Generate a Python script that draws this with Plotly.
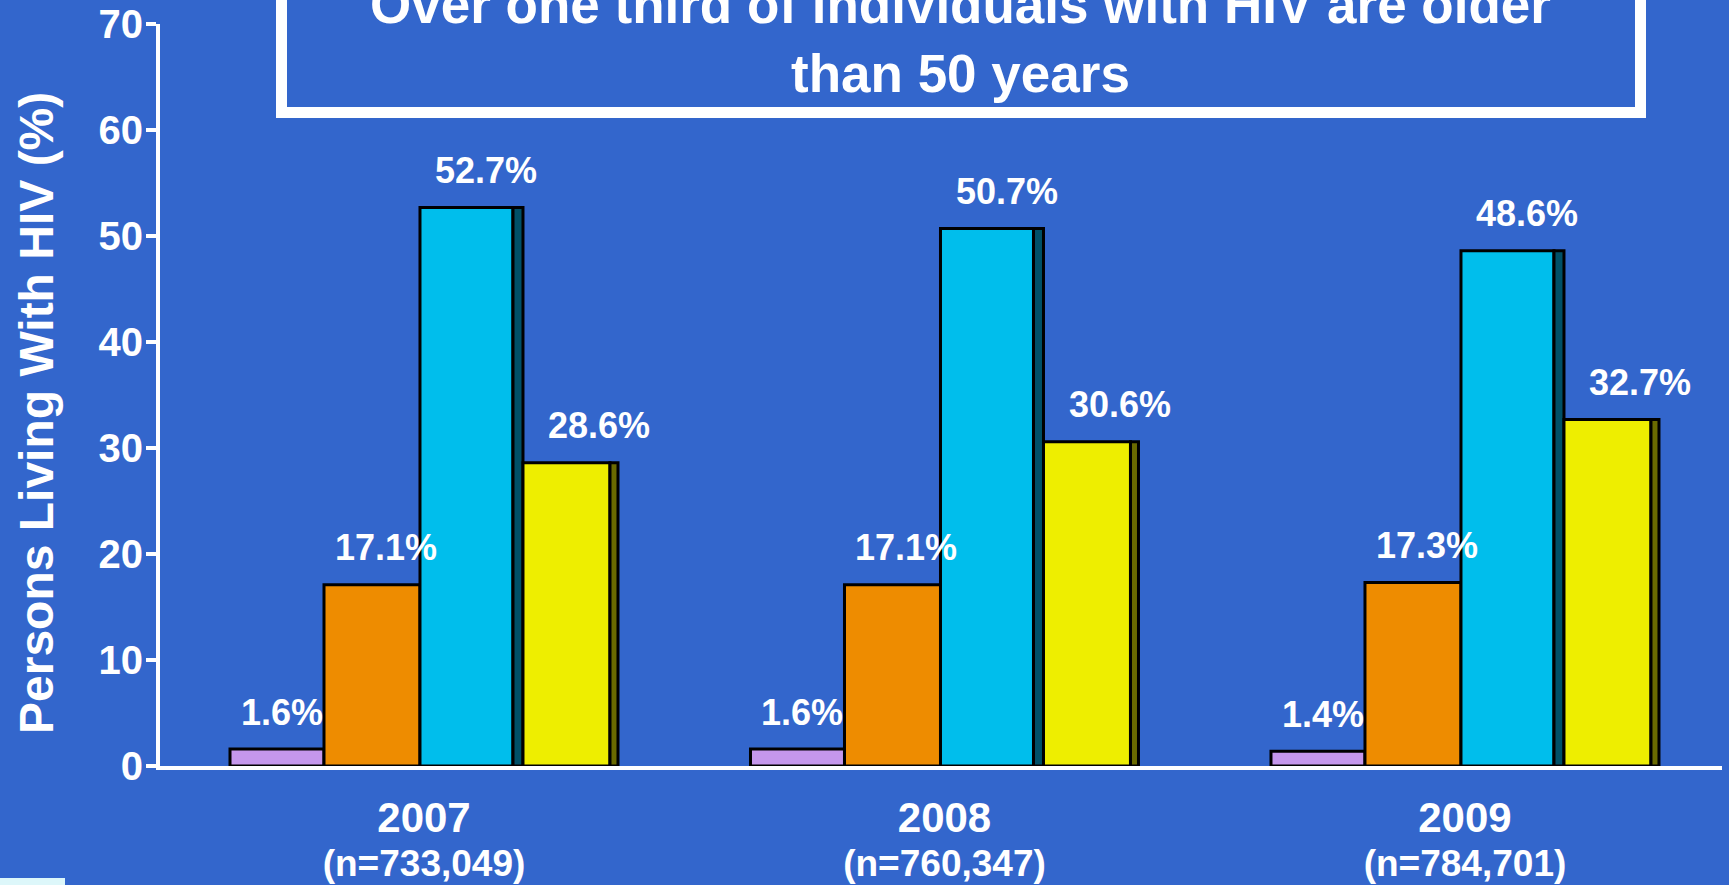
import plotly.graph_objects as go

# ---------------- data ----------------
years = ["2007", "2008", "2009"]
sample_sizes = ["733,049", "760,347", "784,701"]
age_groups = ["<13", "13-24", "25-49", "50+"]
pct_under13 = [1.6, 1.6, 1.4]
pct_13_24 = [17.1, 17.1, 17.3]
pct_25_49 = [52.7, 50.7, 48.6]
pct_50plus = [28.6, 30.6, 32.7]
y_ticks = [0, 10, 20, 30, 40, 50, 60, 70]
title_text = "Over one third of individuals with HIV are older<br>than 50 years"
y_title = "Persons Living With HIV (%)"

# ---------------- style ----------------
BG = "#3366CC"
FONT = "Liberation Sans, Arial, sans-serif"
PX = 1.0 / 520.5  # data units per pixel along x
xpos = list(range(len(years)))

series = [
    # values, face colour, offset px, width px, side colour, side width px, label xshift
    (pct_under13, "#C597EC", -194, 94, None, 0, 5),
    (pct_13_24, "#EE8C00", -100, 96, None, 0, 14),
    (pct_25_49, "#00BEEC", -4, 93, "#005068", 10, 20),
    (pct_50plus, "#EEEE00", 99, 87, "#6A6A00", 8, 33),
]

fig = go.Figure()
annotations = []
for vals, col, off, wid, side_col, side_w, xs in series:
    fig.add_trace(go.Bar(
        x=xpos, y=vals, offset=off * PX, width=wid * PX,
        marker=dict(color=col, line=dict(color="black", width=3)),
        hoverinfo="skip", showlegend=False,
    ))
    if side_col:
        fig.add_trace(go.Bar(
            x=xpos, y=vals, offset=(off + wid) * PX, width=side_w * PX,
            marker=dict(color=side_col, line=dict(color="black", width=3)),
            hoverinfo="skip", showlegend=False,
        ))
    for i, v in enumerate(vals):
        annotations.append(dict(
            x=xpos[i] + (off + wid / 2) * PX, y=v, xref="x", yref="y",
            text=f"{v:.1f}%", showarrow=False, xanchor="center", yanchor="middle",
            xshift=xs, yshift=37,
            font=dict(family=FONT, size=36, color="white", weight="bold"),
        ))

# chart title inside the framed box
annotations.append(dict(
    x=0.5128, y=(766 - 38.5) / 742, xref="paper", yref="paper", text=title_text,
    showarrow=False, xanchor="center", yanchor="middle",
    font=dict(family=FONT, size=53, color="white", weight="bold"),
))
# y-axis title
annotations.append(dict(
    x=(36 - 160) / 1562, y=(766 - 413) / 742, xref="paper", yref="paper",
    text=y_title, textangle=-90, showarrow=False, xanchor="center", yanchor="middle",
    font=dict(family=FONT, size=48, color="white", weight="bold"),
))

tick_text = [
    f"<span style='font-size:42px'>{y}</span><br><span style='font-size:37px'>(n={n})</span>"
    for y, n in zip(years, sample_sizes)
]

fig.update_layout(
    width=1729, height=885,
    margin=dict(l=160, r=7, t=24, b=119, pad=0),
    paper_bgcolor=BG, plot_bgcolor=BG,
    barmode="overlay",
    annotations=annotations,
    shapes=[
        dict(type="rect", xref="paper", yref="paper",
             x0=(281.5 - 160) / 1562, x1=(1640.5 - 160) / 1562,
             y0=(766 - 112.5) / 742, y1=(766 + 40) / 742,
             line=dict(color="white", width=11), fillcolor="rgba(0,0,0,0)", layer="below"),
        dict(type="rect", xref="paper", yref="paper",
             x0=(0 - 160) / 1562, x1=(65 - 160) / 1562,
             y0=(766 - 878) / 742, y1=(766 - 890) / 742,
             line=dict(width=0), fillcolor="#DDF7FA"),
    ],
    xaxis=dict(
        range=[-0.5072, 2.4938], tickvals=xpos, ticktext=tick_text,
        showgrid=False, zeroline=False, showline=True, linecolor="white", linewidth=4,
        ticks="", ticklabelstandoff=21, automargin=False,
        tickfont=dict(family=FONT, size=34, color="white", weight="bold"),
    ),
    yaxis=dict(
        range=[0, 70], tickvals=y_ticks, showgrid=False, zeroline=False,
        showline=True, linecolor="white", linewidth=4,
        ticks="outside", ticklen=10, tickwidth=4, tickcolor="white",
        ticklabelstandoff=-5, automargin=False,
        tickfont=dict(family=FONT, size=40, color="white", weight="bold"),
    ),
)

fig.write_html("out.html")
